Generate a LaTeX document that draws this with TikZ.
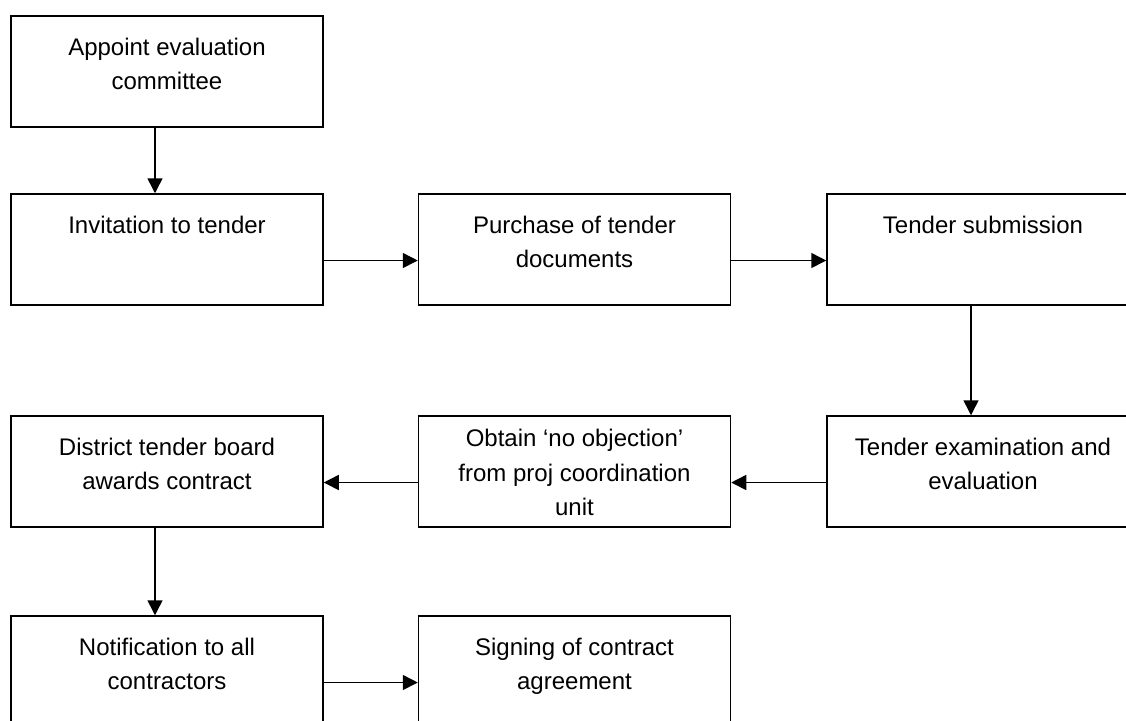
\documentclass[tikz,border=0pt]{standalone}
\usepackage{fontspec}
\setmainfont{Liberation Sans}
\usetikzlibrary{arrows.meta}

\begin{document}
\begin{tikzpicture}[
  x=0.5pt, y=-0.5pt,
  font=\fontsize{12pt}{17.25pt}\selectfont,
  stepbox/.style={draw, line width=0.75pt, inner sep=0pt,
    execute at begin node={\begin{minipage}[c][55.5pt][t]{156pt}\centering\rule{0pt}{#1}},
    execute at end node={\end{minipage}}},
  stepbox/.default=19.5pt,
  flow/.style={-{Triangle[length=7.5pt,width=7.5pt]}, line width=0.75pt},
]
  \useasboundingbox (0,0) rectangle (1126,720);
  \clip (0,0) rectangle (1126,720);

  % rows and columns of the procurement steps
  \node[stepbox] (appoint)  at (167,71.5)   {Appoint evaluation\\committee};
  \node[stepbox] (invite)   at (167,249.5)  {Invitation to tender};
  \node[stepbox] (purchase) at (574.5,249.5){Purchase of tender\\documents};
  \node[stepbox] (submit)   at (983,249.5)  {Tender submission};
  \node[stepbox] (examine)  at (983,471.5)  {Tender examination and\\evaluation};
  \node[stepbox=15.3pt] (noobj) at (574.5,471.5)
        {Obtain ‘no objection’\\from proj coordination\\unit};
  \node[stepbox] (award)    at (167,471.5)  {District tender board\\awards contract};
  \node[stepbox] (notify)   at (167,671.5)  {Notification to all\\contractors};
  \node[stepbox] (sign)     at (574.5,671.5){Signing of contract\\agreement};

  % arrows sit a little off the box centres
  \draw[flow] ([xshift=-6pt]appoint.south) -- ([xshift=-6pt]invite.north);
  \draw[flow] ([yshift=-5.5pt]invite.east) -- ([yshift=-5.5pt]purchase.west);
  \draw[flow] ([yshift=-5.5pt]purchase.east) -- ([yshift=-5.5pt]submit.west);
  \draw[flow] ([xshift=-6pt]submit.south) -- ([xshift=-6pt]examine.north);
  \draw[flow] ([yshift=-5.5pt]examine.west) -- ([yshift=-5.5pt]noobj.east);
  \draw[flow] ([yshift=-5.5pt]noobj.west) -- ([yshift=-5.5pt]award.east);
  \draw[flow] ([xshift=-6pt]award.south) -- ([xshift=-6pt]notify.north);
  \draw[flow] ([yshift=-5.5pt]notify.east) -- ([yshift=-5.5pt]sign.west);
\end{tikzpicture}
\end{document}
